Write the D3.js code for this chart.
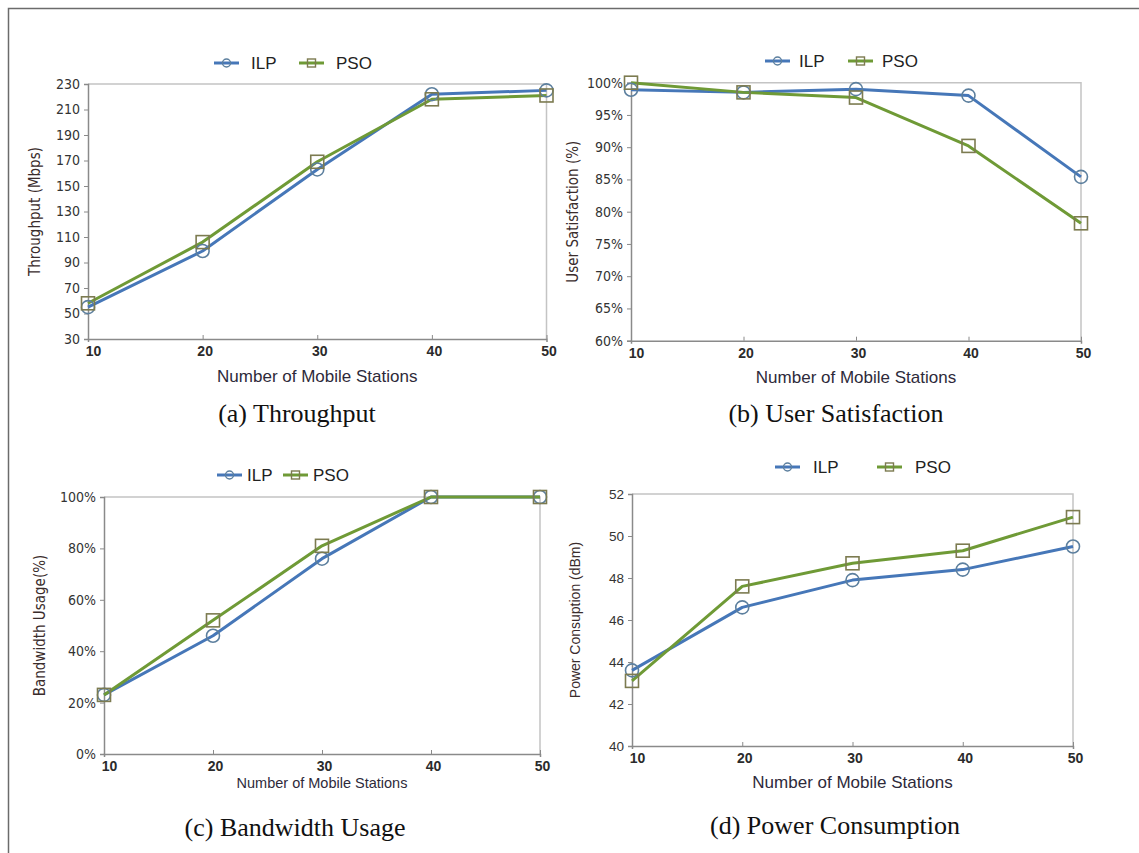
<!DOCTYPE html>
<html>
<head>
<meta charset="utf-8">
<script src="https://cdn.jsdelivr.net/npm/d3@7"></script>
<style>
  body { margin: 0; background: #fff; }
  svg { display: block; }
</style>
</head>
<body>
<div id="chart"></div>
<script>
// Data
const stations = [10, 20, 30, 40, 50];
const seriesNames = ["ILP", "PSO"];

const throughputILP = [55, 99, 163, 222, 225];
const throughputPSO = [58, 106, 169, 218, 221];
const throughputTicks = [30, 50, 70, 90, 110, 130, 150, 170, 190, 210, 230];

const satisfactionILP = [98.9, 98.5, 99.0, 98.0, 85.4];
const satisfactionPSO = [100, 98.5, 97.7, 90.2, 78.2];
const satisfactionTicks = [60, 65, 70, 75, 80, 85, 90, 95, 100];

const bandwidthILP = [23, 46, 76, 100, 100];
const bandwidthPSO = [23, 52, 81, 100, 100];
const bandwidthTicks = [0, 20, 40, 60, 80, 100];

const powerILP = [43.6, 46.6, 47.9, 48.4, 49.5];
const powerPSO = [43.1, 47.6, 48.7, 49.3, 50.9];
const powerTicks = [40, 42, 44, 46, 48, 50, 52];

const colors = { ILP: "#4677b8", PSO: "#6f9a36" };
const markerStroke = { ILP: "#5c7f9e", PSO: "#7c7b50" };

const svg = d3.select("#chart").append("svg")
    .attr("width", 1139)
    .attr("height", 853);

svg.append("rect").attr("width", 1139).attr("height", 853).attr("fill", "#fff");

// outer frame (only left and top visible)
svg.append("path")
    .attr("d", "M8.5,853 L8.5,8.5 L1139,8.5")
    .attr("fill", "none")
    .attr("stroke", "#6b6b6b")
    .attr("stroke-width", 1.5);

const panels = [
    {
        ilp: throughputILP, pso: throughputPSO, ticks: throughputTicks,
        fmt: d => d, yTitle: "Throughput (Mbps)", caption: "(a) Throughput",
        left: 88, right: 546.5, top: 84, bottom: 339,
        yTitleX: 40, xTitleY: 382, xTitleSize: 17, captionX: 297, captionY: 422,
        legendX: 214, legendY: 63, legendGap: 85, legendText: 37, narrow: true
    },
    {
        ilp: satisfactionILP, pso: satisfactionPSO, ticks: satisfactionTicks,
        fmt: d => d + "%", yTitle: "User Satisfaction (%)", caption: "(b) User Satisfaction",
        left: 631, right: 1081, top: 82.7, bottom: 340.7,
        yTitleX: 578, xTitleY: 383, xTitleSize: 17, captionX: 836, captionY: 422,
        legendX: 765, legendY: 61, legendGap: 83, legendText: 34, narrow: true
    },
    {
        ilp: bandwidthILP, pso: bandwidthPSO, ticks: bandwidthTicks,
        fmt: d => d + "%", yTitle: "Bandwidth Usage(%)", caption: "(c) Bandwidth Usage",
        left: 104, right: 540, top: 497, bottom: 754,
        yTitleX: 45, xTitleY: 788, xTitleSize: 14.5, captionX: 295, captionY: 836,
        legendX: 217, legendY: 475, legendGap: 66, legendText: 30, narrow: true
    },
    {
        ilp: powerILP, pso: powerPSO, ticks: powerTicks,
        fmt: d => d, yTitle: "Power Consuption (dBm)", caption: "(d) Power Consumption",
        left: 632, right: 1073, top: 494, bottom: 746,
        yTitleX: 580, xTitleY: 788, xTitleSize: 17, captionX: 835, captionY: 834,
        legendX: 775, legendY: 467, legendGap: 102, legendText: 38, narrow: false
    }
];

panels.forEach(drawPanel);

function drawPanel(p) {
    const g = svg.append("g");

    const x = d3.scaleLinear()
        .domain([stations[0], stations[stations.length - 1]])
        .range([p.left, p.right]);

    const y = d3.scaleLinear()
        .domain(d3.extent(p.ticks))
        .range([p.bottom, p.top]);

    // light frame on top and right
    g.append("path")
        .attr("d", `M${p.left},${p.top} L${p.right},${p.top} L${p.right},${p.bottom}`)
        .attr("fill", "none")
        .attr("stroke", "#c4c4c4")
        .attr("stroke-width", 1.5);

    // y axis
    const yAxis = g.append("g")
        .attr("transform", `translate(${p.left},0)`)
        .call(d3.axisLeft(y).tickValues(p.ticks).tickSize(4).tickPadding(4).tickFormat(p.fmt));
    yAxis.select(".domain").attr("stroke", "#8a8a8a").attr("stroke-width", 1.5);
    yAxis.selectAll(".tick line").attr("stroke", "#8a8a8a");
    yAxis.selectAll("text")
        .style("font-family", p.narrow ? "'Liberation Sans Narrow', 'DejaVu Sans Condensed', sans-serif" : "'Liberation Sans', Arial, sans-serif")
        .style("font-size", p.narrow ? "14px" : "13.5px")
        .attr("fill", "#333");

    // x axis
    const xAxis = g.append("g")
        .attr("transform", `translate(0,${p.bottom})`)
        .call(d3.axisBottom(x).tickValues(stations).tickSize(3).tickPadding(4));
    xAxis.select(".domain").attr("stroke", "#8a8a8a").attr("stroke-width", 1.5);
    xAxis.selectAll(".tick line").attr("stroke", "#8a8a8a").attr("y2", -4);
    xAxis.selectAll("text")
        .attr("dx", (d, i) => i === 0 ? 5 : 2)
        .style("font-family", "'Liberation Sans', Arial, sans-serif")
        .style("font-size", "14px")
        .style("font-weight", "bold")
        .attr("fill", "#2b2b2b");

    // axis titles
    g.append("text")
        .attr("transform", `translate(${p.yTitleX},${(p.top + p.bottom) / 2}) rotate(-90)`)
        .attr("text-anchor", "middle")
        .style("font-family", p.narrow ? "'Liberation Sans Narrow', 'DejaVu Sans Condensed', sans-serif" : "'Liberation Sans', Arial, sans-serif")
        .style("font-size", p.narrow ? "15px" : "14px")
        .attr("fill", "#3a2c2c")
        .text(p.yTitle);

    g.append("text")
        .attr("x", (p.left + p.right) / 2)
        .attr("y", p.xTitleY)
        .attr("text-anchor", "middle")
        .style("font-family", "'Liberation Sans', Arial, sans-serif")
        .style("font-size", p.xTitleSize + "px")
        .attr("fill", "#2e2a3a")
        .text("Number of Mobile Stations");

    // caption
    g.append("text")
        .attr("x", p.captionX)
        .attr("y", p.captionY)
        .attr("text-anchor", "middle")
        .style("font-family", "'Liberation Serif', 'Times New Roman', serif")
        .style("font-size", "26px")
        .attr("fill", "#111")
        .text(p.caption);

    const line = d3.line()
        .x((d, i) => x(stations[i]))
        .y(d => y(d));

    const seriesData = { ILP: p.ilp, PSO: p.pso };

    seriesNames.forEach(name => {
        g.append("path")
            .datum(seriesData[name])
            .attr("fill", "none")
            .attr("stroke", colors[name])
            .attr("stroke-width", 3)
            .attr("stroke-linejoin", "round")
            .attr("d", line);
    });

    // markers drawn after both lines
    seriesNames.forEach(name => {
        const pts = seriesData[name].map((v, i) => ({ x: x(stations[i]), y: y(v) }));
        if (name === "ILP") {
            g.selectAll(null).data(pts).enter().append("circle")
                .attr("cx", d => d.x).attr("cy", d => d.y).attr("r", 6.5)
                .attr("fill", "none")
                .attr("stroke", markerStroke[name])
                .attr("stroke-width", 1.6);
        } else {
            g.selectAll(null).data(pts).enter().append("rect")
                .attr("x", d => d.x - 6.5).attr("y", d => d.y - 6.5)
                .attr("width", 13).attr("height", 13)
                .attr("fill", "none")
                .attr("stroke", markerStroke[name])
                .attr("stroke-width", 1.6);
        }
    });

    // legend
    seriesNames.forEach((name, i) => {
        const lx = p.legendX + i * p.legendGap;
        const lg = g.append("g").attr("transform", `translate(${lx},${p.legendY})`);
        lg.append("line")
            .attr("x1", 0).attr("x2", 25).attr("y1", 0).attr("y2", 0)
            .attr("stroke", colors[name]).attr("stroke-width", 3);
        if (name === "ILP") {
            lg.append("circle").attr("cx", 12.5).attr("cy", 0).attr("r", 4)
                .attr("fill", "none").attr("stroke", markerStroke[name]).attr("stroke-width", 1.4);
        } else {
            lg.append("rect").attr("x", 8.5).attr("y", -4).attr("width", 8).attr("height", 8)
                .attr("fill", "none").attr("stroke", markerStroke[name]).attr("stroke-width", 1.4);
        }
        lg.append("text")
            .attr("x", p.legendText).attr("y", 6)
            .style("font-family", "'Liberation Sans', Arial, sans-serif")
            .style("font-size", "17px")
            .attr("fill", "#222")
            .text(name);
    });
}
</script>
</body>
</html>
